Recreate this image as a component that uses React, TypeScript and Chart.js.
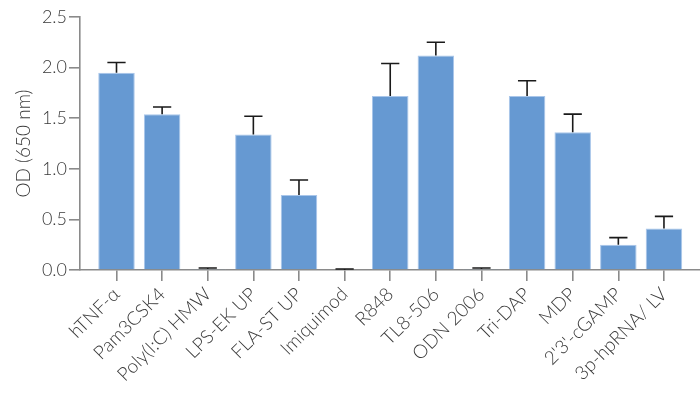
import React, { useEffect, useRef } from "react";
import { Chart, registerables } from "chart.js";

Chart.register(...registerables);

const categories = [
  "hTNF-α",
  "Pam3CSK4",
  "Poly(I:C) HMW",
  "LPS-EK UP",
  "FLA-ST UP",
  "Imiquimod",
  "R848",
  "TL8-506",
  "ODN 2006",
  "Tri-DAP",
  "MDP",
  "2'3'-cGAMP",
  "3p-hpRNA/ LV",
];
const meanValues = [1.95, 1.54, 0.01, 1.34, 0.74, 0.0, 1.72, 2.12, 0.01, 1.72, 1.36, 0.25, 0.41];
const errorValues = [0.1, 0.07, 0.01, 0.18, 0.15, 0.01, 0.32, 0.13, 0.01, 0.15, 0.18, 0.07, 0.12];
const yTickValues = [0, 0.5, 1.0, 1.5, 2.0, 2.5];
const yAxisTitle = "OD (650 nm)";

const FONT = "Lato, 'DejaVu Sans', sans-serif";
const AXIS = "#8a8a8a";
const TEXT = "#3a3a3a";

const errorBarPlugin = {
  id: "errorBars",
  afterDatasetsDraw(chart: any) {
    const meta = chart.getDatasetMeta(0);
    const yScale = chart.scales.y;
    const ctx = chart.ctx;
    ctx.save();
    ctx.strokeStyle = "#1a1a1a";
    ctx.lineWidth = 1.6;
    meta.data.forEach((bar: any, i: number) => {
      const top = yScale.getPixelForValue(meanValues[i] + errorValues[i]);
      const half = bar.width * 0.25;
      ctx.beginPath();
      ctx.moveTo(bar.x, bar.y);
      ctx.lineTo(bar.x, top);
      ctx.moveTo(bar.x - half, top);
      ctx.lineTo(bar.x + half, top);
      ctx.stroke();
    });
    ctx.restore();
  },
};

export default function App() {
  const ref = useRef<HTMLCanvasElement>(null);

  useEffect(() => {
    document.body.style.margin = "0";
    const canvas = ref.current;
    if (!canvas) return;
    const chart = new Chart(canvas, {
      type: "bar",
      data: {
        datasets: [
          {
            data: meanValues.map((v, i) => ({ x: i, y: v })),
            backgroundColor: "#6699d2",
            borderColor: "#a9c6ea",
            borderWidth: 1,
            borderSkipped: "start",
            barPercentage: 0.8,
            categoryPercentage: 1,
          },
        ],
      },
      options: {
        animation: false,
        responsive: false,
        devicePixelRatio: 1,
        layout: { padding: { top: 17, right: 0, left: 0, bottom: 0 } },
        plugins: { legend: { display: false }, tooltip: { enabled: false } },
        scales: {
          x: {
            type: "linear",
            offset: false,
            min: -0.8,
            max: 12.79,
            afterBuildTicks: (scale: any) => {
              scale.ticks = categories.map((_, i) => ({ value: i }));
            },
            afterFit: (scale: any) => {
              scale.height = 128;
            },
            border: { display: true, color: AXIS, width: 1.6 },
            grid: {
              offset: false,
              drawOnChartArea: false,
              drawTicks: true,
              tickLength: 11,
              color: AXIS,
              lineWidth: 1.6,
            },
            ticks: {
              autoSkip: false,
              maxRotation: 45,
              minRotation: 45,
              padding: 2,
              color: TEXT,
              font: { family: FONT, size: 19, weight: "300" },
              callback: (value: any) => categories[value as number] ?? "",
            },
          },
          y: {
            min: 0,
            max: 2.5,
            afterBuildTicks: (scale: any) => {
              scale.ticks = yTickValues.map((v) => ({ value: v }));
            },
            afterFit: (scale: any) => {
              scale.width = 80;
            },
            border: { display: true, color: AXIS, width: 1.6 },
            grid: {
              drawOnChartArea: false,
              drawTicks: true,
              tickLength: 11,
              color: AXIS,
              lineWidth: 1.6,
            },
            ticks: {
              padding: 2,
              color: TEXT,
              font: { family: FONT, size: 18, weight: "300" },
              callback: (value: any) => Number(value).toFixed(1),
            },
            title: {
              display: true,
              text: yAxisTitle,
              color: TEXT,
              padding: { top: 12, bottom: 0 },
              font: { family: FONT, size: 19, weight: "300" },
            },
          },
        },
      },
      plugins: [errorBarPlugin],
    });
    return () => chart.destroy();
  }, []);

  return (
    <div style={{ width: 700, height: 398, position: "relative", background: "#fff" }}>
      <canvas ref={ref} width={700} height={398} />
    </div>
  );
}
